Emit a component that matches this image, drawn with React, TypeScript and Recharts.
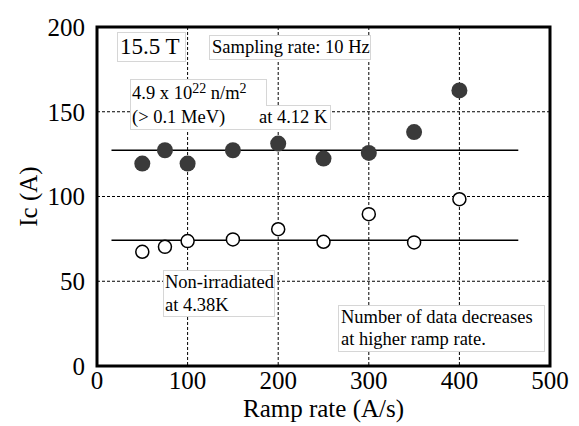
import React from 'react';
import {
  ComposedChart,
  Scatter,
  XAxis,
  YAxis,
  CartesianGrid,
  ReferenceLine,
  ReferenceArea,
} from 'recharts';

// Ramp rate (A/s) for each measurement
const rampRates = [50, 75, 100, 150, 200, 250, 300, 350, 400];
// Ic (A) for the irradiated sample at 4.12 K
const icIrradiated = [119.4, 127.3, 119.4, 127.3, 131.2, 122.4, 125.7, 138, 162.6];
// Ic (A) for the non-irradiated sample at 4.38 K
const icNonIrradiated = [67.4, 70.3, 73.7, 74.7, 80.7, 73.3, 89.6, 72.9, 98.4];
// horizontal guide lines (average Ic) and their x span
const avgIrradiated = 127.3;
const avgNonIrradiated = 74.2;
const avgSpan = [16, 465];

const xTicks = [0, 100, 200, 300, 400, 500];
const yTicks = [0, 50, 100, 150, 200];

const irradiatedData = rampRates.map((x, i) => ({ x, y: icIrradiated[i] }));
const nonIrradiatedData = rampRates.map((x, i) => ({ x, y: icNonIrradiated[i] }));

const FONT = 'Liberation Serif, DejaVu Serif, Times New Roman, serif';
const BOX_BORDER = '1px solid #d6d6d6';

const FilledDot = (props: any) => (
  <circle cx={props.cx} cy={props.cy} r={8} fill="#3a3a3a" />
);
const OpenDot = (props: any) => (
  <circle cx={props.cx} cy={props.cy} r={6.5} fill="#fff" stroke="#000" strokeWidth={1.5} />
);

const boxStyle: React.CSSProperties = {
  position: 'absolute',
  background: '#fff',
  boxSizing: 'border-box',
  fontFamily: FONT,
  fontSize: 18.5,
  lineHeight: '22px',
  color: '#000',
  whiteSpace: 'nowrap',
};

const sup: React.CSSProperties = {
  fontSize: 14,
  verticalAlign: 'baseline',
  position: 'relative',
  top: -6,
};

export default function App() {
  return (
    <div style={{ position: 'absolute', left: 0, top: 0, width: 579, height: 426, background: '#fff', fontFamily: FONT }}>
      <ComposedChart
        width={579}
        height={426}
        margin={{ top: 27, right: 29, bottom: 0, left: 0 }}
        style={{ fontFamily: FONT }}
      >
        <CartesianGrid stroke="#000" strokeWidth={1} strokeDasharray="3 2" />
        <XAxis
          type="number"
          dataKey="x"
          domain={[0, 500]}
          ticks={xTicks}
          height={60}
          axisLine={false}
          tickLine={false}
          tickSize={2}
          tickMargin={3}
          tick={{ fontSize: 25, fill: '#000', fontFamily: FONT }}
          label={{
            content: ({ viewBox }: any) => (
              <text
                x={viewBox.x + viewBox.width / 2}
                y={viewBox.y + 51}
                textAnchor="middle"
                fontSize={25}
                fontFamily={FONT}
                fill="#000"
              >
                Ramp rate (A/s)
              </text>
            ),
          }}
        />
        <YAxis
          type="number"
          dataKey="y"
          domain={[0, 200]}
          ticks={yTicks}
          width={97}
          axisLine={false}
          tickLine={false}
          tickSize={4}
          tickMargin={8}
          tick={{ fontSize: 25, fill: '#000', fontFamily: FONT }}
          label={{
            content: ({ viewBox }: any) => {
              const cx = viewBox.x + 37;
              const cy = viewBox.y + viewBox.height / 2;
              return (
                <text
                  x={cx}
                  y={cy}
                  textAnchor="middle"
                  fontSize={25}
                  fontFamily={FONT}
                  fill="#000"
                  transform={`rotate(-90, ${cx}, ${cy})`}
                >
                  Ic (A)
                </text>
              );
            },
          }}
        />
        <ReferenceArea
          x1={0}
          x2={500}
          y1={0}
          y2={200}
          fill="none"
          stroke="#000"
          strokeWidth={3}
          ifOverflow="visible"
        />
        <ReferenceLine
          segment={[
            { x: avgSpan[0], y: avgIrradiated },
            { x: avgSpan[1], y: avgIrradiated },
          ]}
          stroke="#000"
          strokeWidth={1.5}
        />
        <ReferenceLine
          segment={[
            { x: avgSpan[0], y: avgNonIrradiated },
            { x: avgSpan[1], y: avgNonIrradiated },
          ]}
          stroke="#000"
          strokeWidth={1.5}
        />
        <Scatter data={irradiatedData} shape={FilledDot} isAnimationActive={false} />
        <Scatter data={nonIrradiatedData} shape={OpenDot} isAnimationActive={false} />
      </ComposedChart>

      {/* annotation boxes */}
      <div style={{ ...boxStyle, left: 117, top: 32, width: 69, height: 30, border: BOX_BORDER, fontSize: 23, lineHeight: '27px', paddingLeft: 2 }}>
        15.5 T
      </div>
      <div style={{ ...boxStyle, left: 209, top: 35, width: 162, height: 25, border: BOX_BORDER, paddingLeft: 2 }}>
        Sampling rate: 10 Hz
      </div>
      <div style={{ ...boxStyle, left: 130, top: 79, width: 137, height: 27, borderTop: BOX_BORDER, borderLeft: BOX_BORDER, borderRight: BOX_BORDER, paddingLeft: 1, paddingTop: 2 }}>
        4.9 x 10<span style={sup}>22</span> n/m<span style={sup}>2</span>
      </div>
      <div style={{ ...boxStyle, left: 130, top: 105, width: 201, height: 25, borderLeft: BOX_BORDER, borderRight: BOX_BORDER, borderBottom: BOX_BORDER, paddingLeft: 1, paddingTop: 1 }}>
        (&gt; 0.1 MeV)
        <span style={{ position: 'absolute', left: 128 }}>at 4.12 K</span>
      </div>
      <div style={{ position: 'absolute', left: 266, top: 105, width: 65, height: 0, borderTop: BOX_BORDER }} />
      <div style={{ ...boxStyle, left: 163, top: 270, width: 112, height: 47, border: BOX_BORDER, paddingLeft: 1, lineHeight: '23px' }}>
        Non-irradiated
        <br />
        at 4.38K
      </div>
      <div style={{ ...boxStyle, left: 338, top: 305, width: 207, height: 47, border: BOX_BORDER, paddingLeft: 2 }}>
        Number of data decreases
        <br />
        at higher ramp rate.
      </div>
    </div>
  );
}
